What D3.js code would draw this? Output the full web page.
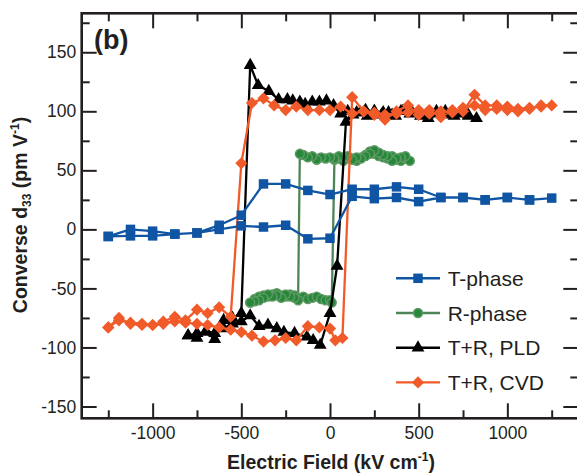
<!DOCTYPE html>
<html lang="en">
<head>
<meta charset="UTF-8">
<title>Converse d33 loops</title>
<script src="https://d3js.org/d3.v7.min.js"></script>
<style>
	body { margin: 0; background: #fff; }
	svg { display: block; font-family: "Liberation Sans", Arial, Helvetica, sans-serif; }
</style>
</head>
<body>
<div id="chart"></div>
<script>

	// loops listed in measuring order: [field kV/cm, d33 pm/V]
	const tPhase = [
		[-1250,-6],[-1125,-5.5],[-1000,-5.5],[-875,-4],[-750,-3],[-625,0],[-500,3],[-375,2],[-250,3.5],[-125,-8],[0,-7.5],
		[125,28],[250,26],[375,27],[500,23.5],[625,27],[750,27],[875,25],[1000,27],[1125,25],[1250,26.5],
		[1125,25],[1000,27],[875,25],[750,27],[625,27],[500,34],[375,36],[250,34],[125,34],[0,29.5],
		[-125,33],[-250,38.5],[-375,38.5],[-500,12],[-625,3.5],[-750,-3],[-875,-4],[-1000,-1.5],[-1125,0],[-1250,-6]
	]
	const rPhase = [
		[-450,-62],[-425,-59],[-400,-57],[-375,-56],[-350,-57],[-325,-55],[-300,-54],[-275,-56],[-250,-57],[-225,-55],
		[-200,-56],[-175,-58],[-150,-57],[-125,-59],[-100,-58],[-75,-57],[-50,-59],[-25,-60],[0,-60],[10,-62],
		[25,59],[50,60],[75,58],[100,61],[125,60],[150,58],[175,61],[200,63],[225,66],[250,64],[275,62],[300,61],
		[325,60],[350,62],[375,59],[400,58],[425,60],[450,58],
		[425,62],[400,61],[375,60],[350,58],[325,62],[300,63],[275,65],[250,67],[225,64],[200,62],[175,60],[150,61],
		[125,59],[100,62],[75,61],[50,62],[25,60],[0,61],[-25,60],[-50,61],[-75,59],[-100,62],[-125,61],[-150,63],[-170,64],
		[-180,-60],[-200,-58],[-225,-57],[-250,-55],[-275,-58],[-300,-56],[-325,-57],[-350,-55],[-375,-58],[-400,-60],[-425,-61],[-450,-62]
	]
	const pld = [
		[-800,-90],[-750,-92],[-700,-86],[-650,-88],[-600,-84],[-550,-80],[-500,-78],[-450,-73],[-400,-82],[-350,-81],
		[-300,-84],[-260,-87],[-200,-88],[-130,-91],[-95,-94],[-55,-98],[0,-71],[40,-31],[90,91],
		[130,97],[170,99],[210,96],[250,100],[290,97],[330,99],[370,96],[410,100],[460,100],[510,96],[554,94],
		[600,98],[650,100],[690,97],[732,98],[780,96],[826,94],
		[780,97],[740,99],[700,96],[650,98],[600,100],[550,97],[500,99],[450,98],[400,100],[350,97],[300,99],
		[250,100],[200,101],[150,99],[100,100],[60,98],[20,105],[-20,109],[-60,108],[-100,108],[-140,106],
		[-170,108],[-210,109],[-240,110],[-290,110],[-345,117],[-405,122],[-450,139],
		[-500,-71],[-550,-75],[-600,-77],[-650,-93],[-700,-87],[-750,-88],[-800,-90]
	]
	const cvd = [
		[-1250,-83],[-1190,-77],[-1125,-79],[-1060,-80],[-1000,-81],[-940,-80],[-875,-78],[-815,-79],[-750,-80],
		[-690,-81],[-625,-83],[-560,-85],[-500,-87],[-440,-90],[-375,-95],[-310,-94],[-250,-92],[-190,-94],
		[-125,-82],[-60,-83],[0,-84],[30,-94],[70,-92],
		[125,112],[190,100],[250,97],[310,93],[375,100],[440,105],[500,97],[560,101],[625,95],[690,101],[750,100],
		[815,114],[875,105],[940,105],[1000,101],[1060,100],[1125,102],[1190,105],[1250,105],
		[1190,104],[1125,103],[1060,102],[1000,104],[940,102],[875,101],[815,105],[750,103],[690,99],[625,100],
		[560,98],[500,101],[440,99],[375,98],[310,97],[250,99],[190,100],[125,98],[60,104],[0,101],[-60,101],
		[-125,101],[-190,104],[-250,101],[-315,105],[-375,111],[-440,107],[-500,56],
		[-560,-74],[-625,-66],[-690,-71],[-750,-68],[-815,-77],[-875,-74],[-940,-78],[-1000,-81],[-1060,-81],
		[-1125,-80],[-1190,-75],[-1250,-83]
	]

	const xMajor = [-1000, -500, 0, 500, 1000]
	const xMinor = [-1250, -750, -250, 250, 750, 1250]
	const yMajor = [-150, -100, -50, 0, 50, 100, 150]
	const yMinor = [-125, -75, -25, 25, 75, 125, 175]

	const legendNames = ['T-phase', 'R-phase', 'T+R, PLD', 'T+R, CVD']

	const width = 577, height = 474
	const ink = '#231f20'

	const svg = d3.select('#chart').append('svg').attr('width', width).attr('height', height)

	const x = d3.scaleLinear().domain([-1400, 1400]).range([81.7, 578.3])
	const y = d3.scaleLinear().domain([-160, 183]).range([418.3, 13.3])

	// series style, drawn back to front
	const series = [
		{name: legendNames[1], data: rPhase, line: '#4d8557', fill: '#27883b', stroke: '#5f9a64', sw: 1.5, type: d3.symbolCircle, size: 62, rot: 0},
		{name: legendNames[2], data: pld, line: '#000', fill: '#000', stroke: 'none', sw: 0, type: d3.symbolTriangle, size: 72, rot: 0},
		{name: legendNames[3], data: cvd, line: '#f15a29', fill: '#f15a29', stroke: 'none', sw: 0, type: d3.symbolSquare, size: 74, rot: 45},
		{name: legendNames[0], data: tPhase, line: '#0f55a3', fill: '#0f55a3', stroke: 'none', sw: 0, type: d3.symbolSquare, size: 90, rot: 0}
	]

	const line = d3.line().x(d => x(d[0])).y(d => y(d[1]))

	for(const s of series) {
		const g = svg.append('g')
		g.append('path')
			.attr('d', line(s.data))
			.attr('fill', 'none')
			.attr('stroke', s.line)
			.attr('stroke-width', 2.3)
			.attr('stroke-linejoin', 'round')
		g.selectAll('path.pt').data(s.data).join('path')
			.attr('class', 'pt')
			.attr('d', d3.symbol().type(s.type).size(s.size))
			.attr('transform', d => `translate(${x(d[0])},${y(d[1])}) rotate(${s.rot})`)
			.attr('fill', s.fill)
			.attr('stroke', s.stroke)
			.attr('stroke-width', s.sw)
	}

	// axes, ticks pointing inwards on all four sides
	const plain = d => String(d)   // hyphen minus like the original, not U+2212
	function styleAxis(g) {
		g.select('.domain').remove()
		g.selectAll('.tick line').attr('stroke', ink).attr('stroke-width', 2)
		g.selectAll('.tick text').attr('fill', ink).attr('font-size', 17.5)
	}
	const x0 = x.range()[0], x1 = x.range()[1], y0 = y.range()[0], y1 = y.range()[1]

	svg.append('g').attr('transform', `translate(0,${y0})`)
		.call(d3.axisBottom(x).tickValues(xMajor).tickSizeInner(-15).tickSizeOuter(0).tickPadding(8).tickFormat(plain))
		.call(styleAxis)
	svg.append('g').attr('transform', `translate(0,${y0})`)
		.call(d3.axisBottom(x).tickValues(xMinor).tickSizeInner(-8).tickSizeOuter(0).tickFormat(''))
		.call(styleAxis)
	svg.append('g').attr('transform', `translate(0,${y1})`)
		.call(d3.axisTop(x).tickValues(xMajor).tickSizeInner(-15).tickSizeOuter(0).tickFormat(''))
		.call(styleAxis)
	svg.append('g').attr('transform', `translate(0,${y1})`)
		.call(d3.axisTop(x).tickValues(xMinor).tickSizeInner(-8).tickSizeOuter(0).tickFormat(''))
		.call(styleAxis)

	svg.append('g').attr('transform', `translate(${x0},0)`)
		.call(d3.axisLeft(y).tickValues(yMajor).tickSizeInner(-15).tickSizeOuter(0).tickPadding(5.5).tickFormat(plain))
		.call(styleAxis)
	svg.append('g').attr('transform', `translate(${x0},0)`)
		.call(d3.axisLeft(y).tickValues(yMinor).tickSizeInner(-8).tickSizeOuter(0).tickFormat(''))
		.call(styleAxis)
	svg.append('g').attr('transform', `translate(${x1},0)`)
		.call(d3.axisRight(y).tickValues(yMajor).tickSizeInner(-15).tickSizeOuter(0).tickFormat(''))
		.call(styleAxis)
	svg.append('g').attr('transform', `translate(${x1},0)`)
		.call(d3.axisRight(y).tickValues(yMinor).tickSizeInner(-8).tickSizeOuter(0).tickFormat(''))
		.call(styleAxis)

	svg.append('rect')
		.attr('x', x0).attr('y', y1)
		.attr('width', x1 - x0).attr('height', y0 - y1)
		.attr('fill', 'none').attr('stroke', ink).attr('stroke-width', 2.6)

	// panel letter
	svg.append('text').attr('x', 94).attr('y', 49)
		.attr('font-size', 27).attr('font-weight', 'bold').attr('fill', ink)
		.text('(b)')

	// axis titles
	const xt = svg.append('text').attr('x', 331).attr('y', 469)
		.attr('text-anchor', 'middle').attr('font-size', 19.5).attr('font-weight', 'bold').attr('fill', ink)
	xt.append('tspan').text('Electric Field (kV cm')
	xt.append('tspan').attr('font-size', 12).attr('dy', -8).text('-1')
	xt.append('tspan').attr('dy', 8).text(')')

	const yt = svg.append('text').attr('transform', 'translate(27,215) rotate(-90)')
		.attr('text-anchor', 'middle').attr('font-size', 19.5).attr('font-weight', 'bold').attr('fill', ink)
	yt.append('tspan').text('Converse d')
	yt.append('tspan').attr('font-size', 12).attr('dy', 4).text('33')
	yt.append('tspan').attr('dy', -4).text(' (pm V')
	yt.append('tspan').attr('font-size', 12).attr('dy', -8).text('-1')
	yt.append('tspan').attr('dy', 8).text(')')

	// legend
	const legendOrder = [series[3], series[0], series[1], series[2]]
	const legend = svg.append('g')
	legendOrder.forEach((s, i) => {
		const ly = 278.3 + i * 34.7
		legend.append('line').attr('x1', 396).attr('x2', 440).attr('y1', ly).attr('y2', ly)
			.attr('stroke', s.line).attr('stroke-width', 2.4)
		legend.append('path')
			.attr('d', d3.symbol().type(s.type).size(s.size))
			.attr('transform', `translate(418,${ly}) rotate(${s.rot})`)
			.attr('fill', s.fill).attr('stroke', s.stroke).attr('stroke-width', s.sw)
		legend.append('text').attr('x', 447.7).attr('y', ly).attr('dy', '0.36em')
			.attr('font-size', 21).attr('fill', ink)
			.text(s.name)
	})
</script>
</body>
</html>
